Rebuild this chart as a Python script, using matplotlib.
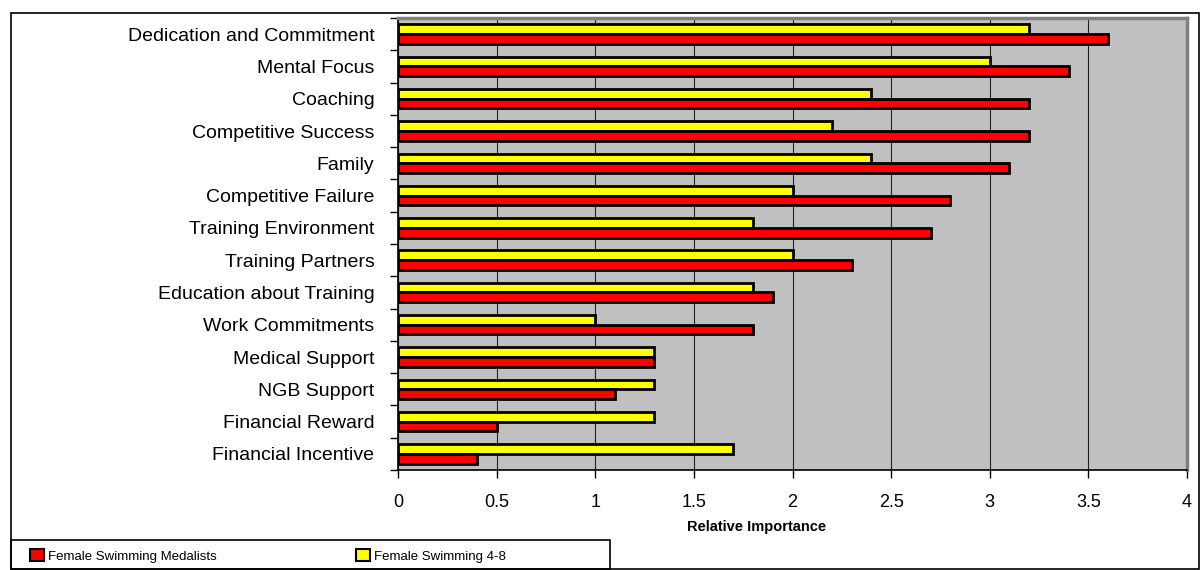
import matplotlib.pyplot as plt
import numpy as np
from matplotlib.patches import Rectangle, Patch

categorias = ['Dedication and Commitment', 'Mental Focus', 'Coaching', 'Competitive Success',
              'Family', 'Competitive Failure', 'Training Environment', 'Training Partners',
              'Education about Training', 'Work Commitments', 'Medical Support', 'NGB Support',
              'Financial Reward', 'Financial Incentive']
medalistas = [3.6, 3.4, 3.2, 3.2, 3.1, 2.8, 2.7, 2.3, 1.9, 1.8, 1.3, 1.1, 0.5, 0.4]
swim_4_8 = [3.2, 3.0, 2.4, 2.2, 2.4, 2.0, 1.8, 2.0, 1.8, 1.0, 1.3, 1.3, 1.3, 1.7]
xticks = [0, 0.5, 1, 1.5, 2, 2.5, 3, 3.5, 4]
xtick_labels = ['0', '0.5', '1', '1.5', '2', '2.5', '3', '3.5', '4']

plt.rcParams['font.family'] = ['Liberation Sans', 'DejaVu Sans']

W, H = 1201, 570
fig = plt.figure(figsize=(W/100, H/100), dpi=100)
ax = fig.add_axes([398/W, 1-470/H, (1187-398)/W, (470-18)/H])

n = len(categorias)
y = np.arange(n)[::-1]
h = 0.30
ax.barh(y + h/2, swim_4_8, height=h, color='#ffff00', edgecolor='black', linewidth=2,
        zorder=3, label='Female Swimming 4-8')
ax.barh(y - h/2, medalistas, height=h, color='#ff0000', edgecolor='black', linewidth=2,
        zorder=3, label='Female Swimming Medalists')

ax.set_facecolor('#c0c0c0')
ax.set_xlim(0, 4)
ax.set_ylim(-0.5, n - 0.5)
ax.set_xticks(xticks)
ax.set_xticklabels(xtick_labels, fontsize=13)
ax.set_yticks(y)
ax.set_yticklabels(categorias, fontsize=14)
ax.set_yticks(np.arange(n + 1) - 0.5, minor=True)
ax.tick_params(axis='y', which='major', length=0, pad=17)
ax.tick_params(axis='y', which='minor', length=6, width=1)
ax.tick_params(axis='x', length=6, width=1, pad=11)
ax.grid(True, axis='x', color='#202020', linewidth=0.8, zorder=1)
ax.set_axisbelow(True)
for s in ['top', 'right']:
    ax.spines[s].set_color('#808080')
    ax.spines[s].set_linewidth(2.5)
ax.spines['left'].set_linewidth(1.2)
ax.spines['bottom'].set_linewidth(1.2)
ax.set_xlabel('Relative Importance', fontsize=10.5, fontweight='bold')
ax.xaxis.set_label_coords((757-398)/789, (470-527)/452)
ax.xaxis.label.set_va('center')

# marco exterior
fig.patches.append(Rectangle((11/W, 1/H), (1199-11)/W, (569-13)/H, transform=fig.transFigure,
                             fill=False, edgecolor='black', linewidth=1.2))
# caja de la leyenda
fig.patches.append(Rectangle((11/W, 1/H), (610-11)/W, (569-540)/H, transform=fig.transFigure,
                             fill=False, edgecolor='black', linewidth=1.2))
handles = [Patch(facecolor='#ff0000', edgecolor='black', linewidth=1.5),
           Patch(facecolor='#ffff00', edgecolor='black', linewidth=1.5)]
leg = fig.legend(handles, ['Female Swimming Medalists', 'Female Swimming 4-8'], ncol=2,
                 loc='center left', bbox_to_anchor=(30/W, 1-556/H), fontsize=9.5,
                 handlelength=1.05, handleheight=1.05, handletextpad=0.35, columnspacing=10.5,
                 borderpad=0, borderaxespad=0, frameon=False)

fig.savefig('out.png', dpi=100)
